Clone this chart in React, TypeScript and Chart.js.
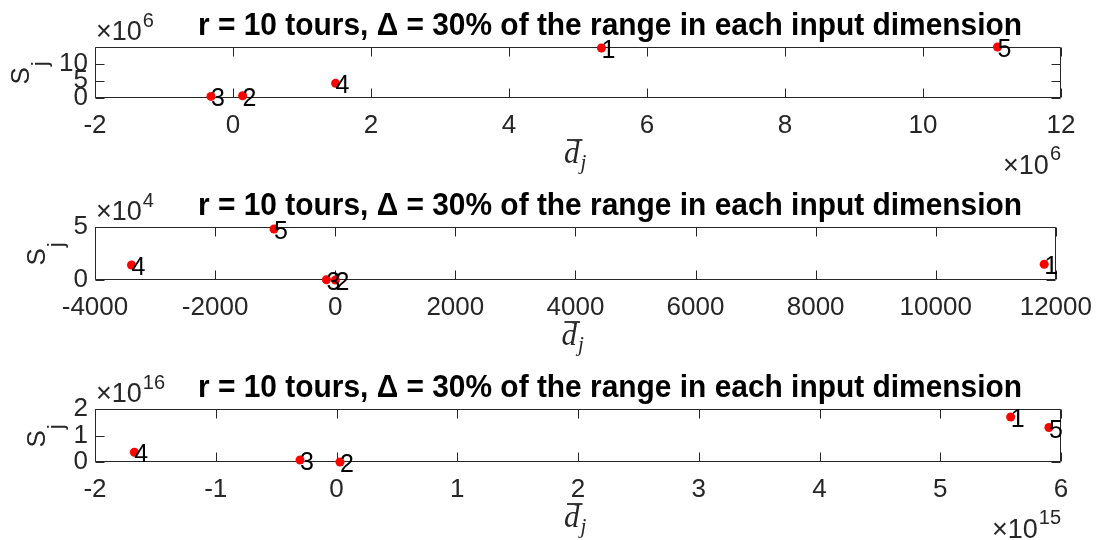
import React, { useEffect, useRef } from "react";
import { Chart, registerables } from "chart.js";

Chart.register(...registerables);

// ---------- data ----------
const pointLabels = ["1", "2", "3", "4", "5"];
const titleText = "r = 10 tours, \u0394 = 30% of the range in each input dimension";

// panel 1
const dbar1 = [5.34e6, 0.139e6, -0.319e6, 1.487e6, 11.08e6];
const sj1 = [14.6e6, 0.66e6, 0.46e6, 4.29e6, 14.9e6];
const xTicks1 = [-2e6, 0, 2e6, 4e6, 6e6, 8e6, 10e6, 12e6];
const yTicks1 = [0, 5e6, 10e6];

// panel 2
const dbar2 = [11806, 3, -146, -3392, -1019];
const sj2 = [1.49e4, 50, 200, 1.42e4, 4.81e4];
const xTicks2 = [-4000, -2000, 0, 2000, 4000, 6000, 8000, 10000, 12000];
const yTicks2 = [0, 5e4];

// panel 3
const dbar3 = [5.583e15, 0.029e15, -0.302e15, -1.674e15, 5.9e15];
const sj3 = [1.7e16, 0.0, 0.076e16, 0.37e16, 1.3e16];
const xTicks3 = [-2e15, -1e15, 0, 1e15, 2e15, 3e15, 4e15, 5e15, 6e15];
const yTicks3 = [0, 1e16, 2e16];

// ---------- panel configuration ----------
type PanelCfg = {
  d: number[];
  s: number[];
  xMin: number; xMax: number; yMin: number; yMax: number;
  xTicks: number[]; yTicks: number[];
  xDiv: number; yDiv: number;
  xExp: string; yExp: string;
};

const panels: PanelCfg[] = [
  { d: dbar1, s: sj1, xMin: -2e6, xMax: 12e6, yMin: 0, yMax: 14.9e6, xTicks: xTicks1, yTicks: yTicks1, xDiv: 1e6, yDiv: 1e6, xExp: "6", yExp: "6" },
  { d: dbar2, s: sj2, xMin: -4000, xMax: 12000, yMin: 0, yMax: 5e4, xTicks: xTicks2, yTicks: yTicks2, xDiv: 1, yDiv: 1e4, xExp: "", yExp: "4" },
  { d: dbar3, s: sj3, xMin: -2e15, xMax: 6e15, yMin: 0, yMax: 2e16, xTicks: xTicks3, yTicks: yTicks3, xDiv: 1e15, yDiv: 1e16, xExp: "15", yExp: "16" },
];

// layout (pixels, per panel canvas of 1104 x 180)
const layouts = [
  { offset: 0, top: 47, bottom: 98, yLabelX: 29 },
  { offset: 180, top: 47, bottom: 100, yLabelX: 45 },
  { offset: 180 * 2, top: 49, bottom: 102, yLabelX: 45 },
];

const W = 1104;
const H = 180;
const AX_LEFT = 95;
const AX_RIGHT = 1061;
const SANS = '"Liberation Sans", Arial, Helvetica, sans-serif';
const SERIF = '"Liberation Serif", "Times New Roman", serif';
const AXC = "#262626";

function fmt(v: number): string {
  const r = Math.round(v * 1000) / 1000;
  return String(r === 0 ? 0 : r);
}

const decorPlugin = {
  id: "decor",
  beforeDatasetsDraw(chart: any) {
    const { ctx, chartArea: a } = chart;
    const xs = chart.scales.x;
    const ys = chart.scales.y;
    const L = Math.round(a.left) + 0.5;
    const R = Math.round(a.right) - 0.5;
    const T = Math.round(a.top) + 0.5;
    const B = Math.round(a.bottom) - 0.5;
    ctx.save();
    ctx.strokeStyle = AXC;
    ctx.lineWidth = 1;
    ctx.beginPath();
    ctx.rect(L, T, R - L, B - T);
    const tl = 9;
    xs.ticks.forEach((t: any) => {
      const px = Math.round(xs.getPixelForValue(t.value)) + 0.5;
      ctx.moveTo(px, B);
      ctx.lineTo(px, B - tl);
      ctx.moveTo(px, T);
      ctx.lineTo(px, T + tl);
    });
    ys.ticks.forEach((t: any) => {
      const py = Math.round(ys.getPixelForValue(t.value)) + 0.5;
      ctx.moveTo(L, py);
      ctx.lineTo(L + tl, py);
      ctx.moveTo(R, py);
      ctx.lineTo(R - tl, py);
    });
    ctx.stroke();
    ctx.restore();
  },
  afterDraw(chart: any) {
    const opts = chart.options.plugins.decor;
    const cfg: PanelCfg = opts.cfg;
    const lay = opts.lay;
    const { ctx, chartArea: a } = chart;
    ctx.save();

    // point labels
    const meta = chart.getDatasetMeta(0);
    ctx.fillStyle = "#000";
    ctx.font = `25px ${SANS}`;
    ctx.textAlign = "left";
    ctx.textBaseline = "alphabetic";
    meta.data.forEach((el: any, i: number) => {
      ctx.fillText(pointLabels[i], el.x, el.y + 10);
    });

    // title
    ctx.font = `bold 32px ${SANS}`;
    const tw = ctx.measureText(titleText).width;
    const targetW = 824;
    ctx.save();
    ctx.translate(198, a.top - 12);
    ctx.scale(targetW / tw, 1);
    ctx.fillStyle = "#000";
    ctx.fillText(titleText, 0, 0);
    ctx.restore();

    // y exponent label
    ctx.fillStyle = AXC;
    if (cfg.yExp) {
      ctx.font = `27px ${SANS}`;
      const base = "\u00d710";
      ctx.fillText(base, a.left + 1, a.top - 7);
      const bw = ctx.measureText(base).width;
      ctx.font = `20px ${SANS}`;
      ctx.fillText(cfg.yExp, a.left + 1 + bw + 1, a.top - 20);
    }
    // x exponent label
    if (cfg.xExp) {
      ctx.font = `20px ${SANS}`;
      const ew = ctx.measureText(cfg.xExp).width;
      ctx.font = `27px ${SANS}`;
      const base = "\u00d710";
      const bw = ctx.measureText(base).width;
      const x0 = a.right - ew - 1 - bw;
      ctx.fillText(base, x0, a.bottom + 76);
      ctx.font = `20px ${SANS}`;
      ctx.fillText(cfg.xExp, x0 + bw + 1, a.bottom + 62);
    }

    // x label: d-bar sub j
    const cx = (a.left + a.right) / 2;
    ctx.font = `italic 31px ${SERIF}`;
    const dw = ctx.measureText("d").width;
    const dx = cx - 14;
    const dBase = a.bottom + 65;
    ctx.fillText("d", dx, dBase);
    ctx.strokeStyle = AXC;
    ctx.lineWidth = 1.8;
    ctx.beginPath();
    ctx.moveTo(dx + 3, a.bottom + 42);
    ctx.lineTo(dx + dw + 3, a.bottom + 42);
    ctx.stroke();
    ctx.font = `italic 21px ${SERIF}`;
    ctx.fillText("j", dx + dw + 1, dBase + 6);

    // y label: S sub j (rotated)
    const cy = (a.top + a.bottom) / 2 + 12;
    ctx.save();
    ctx.translate(lay.yLabelX, cy);
    ctx.rotate(-Math.PI / 2);
    ctx.font = `26px ${SANS}`;
    ctx.fillText("S", 0, 0);
    const sw = ctx.measureText("S").width;
    ctx.font = `22px ${SANS}`;
    ctx.fillText("j", sw + 1, 18);
    ctx.restore();

    ctx.restore();
  },
};

function Panel({ cfg, lay }: { cfg: PanelCfg; lay: any }) {
  const ref = useRef<HTMLCanvasElement>(null);
  useEffect(() => {
    const canvas = ref.current!;
    const chart = new Chart(canvas, {
      type: "scatter",
      data: {
        datasets: [
          {
            data: cfg.d.map((x, i) => ({ x, y: cfg.s[i] })),
            pointRadius: 4.5,
            pointBackgroundColor: "#ff0000",
            pointBorderColor: "#ff0000",
            pointBorderWidth: 0,
            showLine: false,
            clip: false as any,
          },
        ],
      },
      options: {
        animation: false,
        responsive: false,
        maintainAspectRatio: false,
        devicePixelRatio: 1,
        layout: { padding: { top: lay.top, right: W - AX_RIGHT, left: 0, bottom: 0 } },
        plugins: {
          legend: { display: false },
          tooltip: { enabled: false },
          decor: { cfg, lay },
        } as any,
        scales: {
          x: {
            type: "linear",
            min: cfg.xMin,
            max: cfg.xMax,
            afterBuildTicks: (s: any) => {
              s.ticks = cfg.xTicks.map((v) => ({ value: v }));
            },
            afterFit: (s: any) => {
              s.height = H - lay.bottom;
            },
            grid: { display: false, drawTicks: false },
            border: { display: false },
            ticks: {
              padding: 12,
              color: AXC,
              font: { family: SANS, size: 26 },
              maxRotation: 0,
              autoSkip: false,
              callback: (v: any) => fmt(Number(v) / cfg.xDiv),
            },
          },
          y: {
            type: "linear",
            min: cfg.yMin,
            max: cfg.yMax,
            afterBuildTicks: (s: any) => {
              s.ticks = cfg.yTicks.map((v) => ({ value: v }));
            },
            afterFit: (s: any) => {
              s.width = AX_LEFT;
            },
            grid: { display: false, drawTicks: false },
            border: { display: false },
            ticks: {
              padding: 7,
              color: AXC,
              font: { family: SANS, size: 26 },
              autoSkip: false,
              callback: (v: any) => fmt(Number(v) / cfg.yDiv),
            },
          },
        },
      },
      plugins: [decorPlugin as any],
    });
    return () => chart.destroy();
  }, []);
  return (
    <canvas
      ref={ref}
      width={W}
      height={H}
      style={{ position: "absolute", left: 0, top: lay.offset, width: W, height: H }}
    />
  );
}

export default function App() {
  return (
    <div style={{ position: "absolute", left: 0, top: 0, width: W, height: 540, background: "#fff" }}>
      {panels.map((p, i) => (
        <Panel key={i} cfg={p} lay={layouts[i]} />
      ))}
    </div>
  );
}
